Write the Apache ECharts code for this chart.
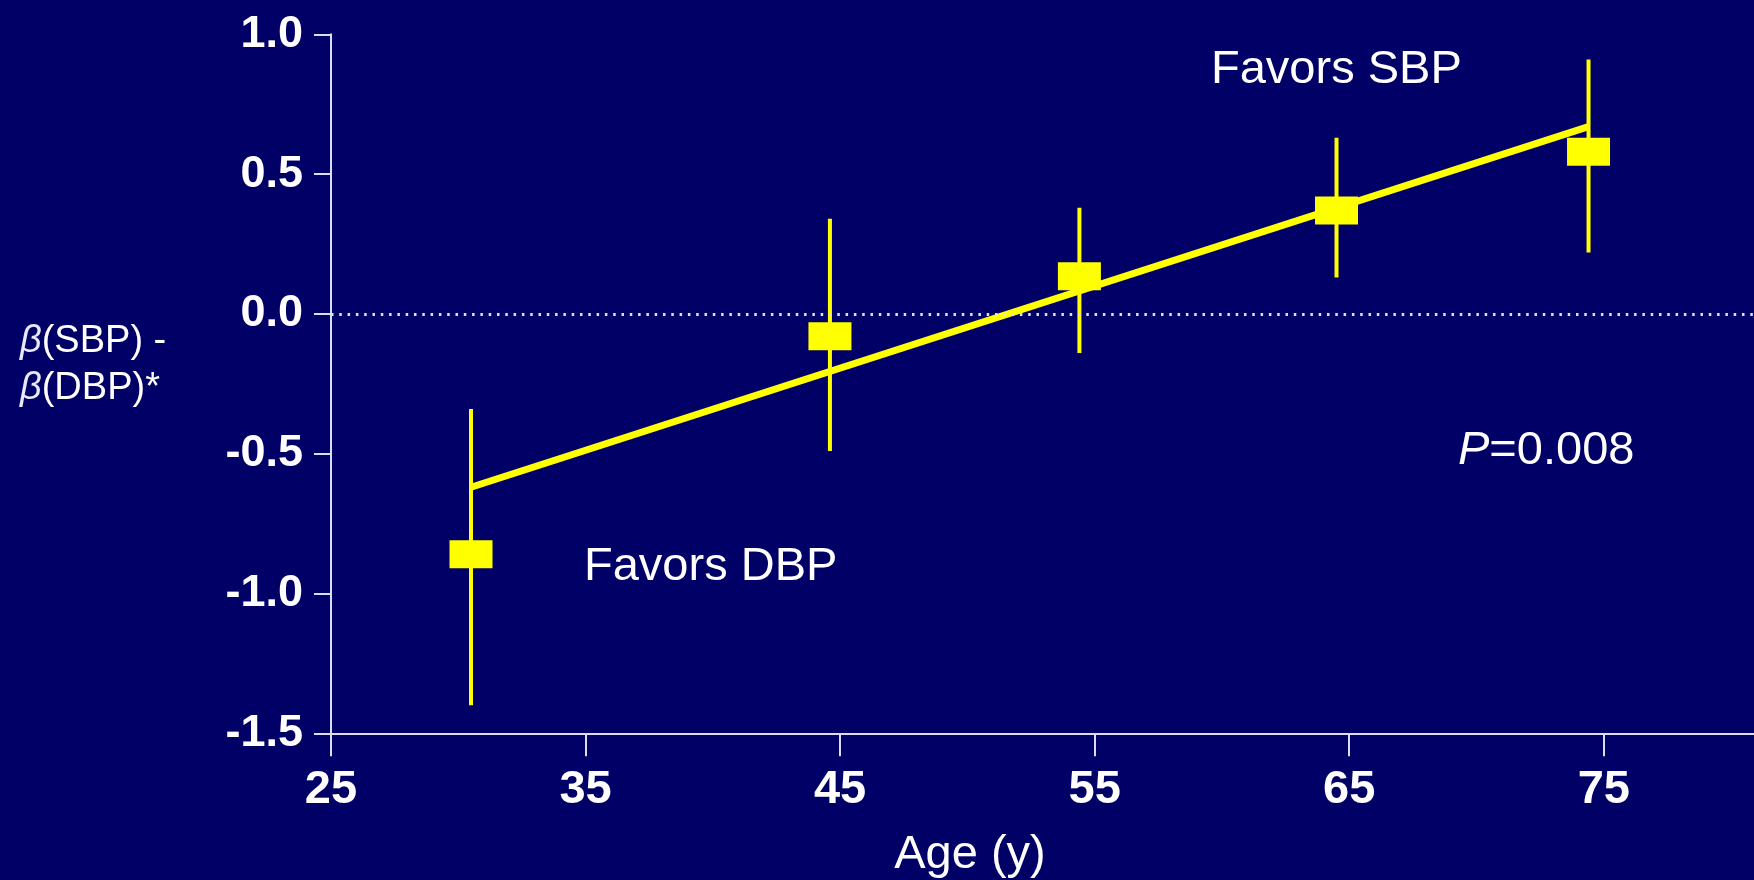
<!DOCTYPE html>
<html>
<head>
<meta charset="utf-8">
<title>β(SBP) - β(DBP) by age</title>
<script src="https://cdn.jsdelivr.net/npm/echarts@6/dist/echarts.min.js"></script>
<style>
  html, body { margin: 0; padding: 0; background: #000066; }
  #chart { width: 1754px; height: 880px; }
</style>
</head>
<body>
<div id="chart"></div>
<script>
// Age group midpoints (years)
const ages = [30.5, 44.6, 54.4, 64.5, 74.4];
// Difference of regression coefficients, β(SBP) - β(DBP)
const betaDiff = [-0.86, -0.08, 0.135, 0.37, 0.58];
// 95% confidence limits
const ciLower = [-1.40, -0.49, -0.14, 0.13, 0.22];
const ciUpper = [-0.34, 0.34, 0.38, 0.63, 0.91];
// Fitted trend line end points
const trendAges = [30.5, 74.4];
const trendValues = [-0.62, 0.67];
// Axis ticks
const xTicks = [25, 35, 45, 55, 65, 75];
const yTickStart = -1.5, yTickEnd = 1.0, yTickStep = 0.5;

const YELLOW = '#ffff00';
const AXIS = '#dcdcf0';
const TEXT = '#ffffff';
const FONT = "'Liberation Sans', Arial, sans-serif";

const points = ages.map((a, i) => [a, betaDiff[i]]);
const bars = ages.map((a, i) => [a, ciLower[i], ciUpper[i]]);
const trend = trendAges.map((a, i) => [a, trendValues[i]]);

const chart = echarts.init(document.getElementById('chart'), null, { renderer: 'canvas' });

chart.setOption({
  backgroundColor: '#000066',
  animation: false,
  grid: { left: 331, top: 34.3, bottom: 146.7, right: 0, containLabel: false },
  xAxis: {
    type: 'value',
    min: 25,
    max: 80.9,
    axisLine: { onZero: false, lineStyle: { color: AXIS, width: 2 } },
    axisTick: { show: true, length: 23, customValues: xTicks, lineStyle: { color: AXIS, width: 2 } },
    splitLine: { show: false },
    axisLabel: {
      color: TEXT,
      fontFamily: FONT,
      fontSize: 47,
      fontWeight: 'bold',
      margin: 33,
      customValues: xTicks
    }
  },
  yAxis: {
    type: 'value',
    min: yTickStart,
    max: yTickEnd,
    interval: yTickStep,
    axisLine: { show: true, onZero: false, lineStyle: { color: AXIS, width: 2 } },
    axisTick: { show: true, length: 17, lineStyle: { color: AXIS, width: 2 } },
    splitLine: { show: false },
    axisLabel: {
      color: TEXT,
      fontFamily: FONT,
      fontSize: 45,
      fontWeight: 'bold',
      margin: 28,
      formatter: v => v.toFixed(1)
    }
  },
  series: [
    {
      // confidence interval whiskers
      type: 'custom',
      data: bars,
      encode: { x: 0, y: [1, 2] },
      z: 2,
      renderItem: (params, api) => {
        const x = api.value(0);
        const lo = api.coord([x, api.value(1)]);
        const hi = api.coord([x, api.value(2)]);
        return {
          type: 'line',
          shape: { x1: lo[0], y1: lo[1], x2: hi[0], y2: hi[1] },
          style: { stroke: YELLOW, lineWidth: 4 }
        };
      }
    },
    {
      // fitted trend
      type: 'line',
      data: trend,
      symbol: 'none',
      z: 3,
      lineStyle: { color: YELLOW, width: 7 }
    },
    {
      // point estimates
      type: 'scatter',
      data: points,
      symbol: 'rect',
      symbolSize: [43, 28],
      z: 4,
      itemStyle: { color: YELLOW, opacity: 1 },
      markLine: {
        silent: true,
        symbol: 'none',
        label: { show: false },
        lineStyle: { color: '#e0e0f0', width: 3, type: [2.5, 5.8] },
        data: [{ yAxis: 0 }]
      }
    }
  ],
  graphic: [
    {
      type: 'text', left: 20, top: 318, z: 10,
      style: {
        text: '{b|β}(SBP) -\n{b|β}(DBP)*',
        fill: TEXT, font: "38px 'Liberation Sans', Arial, sans-serif", lineHeight: 47,
        rich: { b: { fontStyle: 'italic', fontSize: 38, fontFamily: FONT, fill: '#e8e8f8' } }
      }
    },
    {
      type: 'text', x: 970, y: 855, z: 10,
      style: { text: 'Age (y)', fill: TEXT, font: "47px 'Liberation Sans', Arial, sans-serif", align: 'center', verticalAlign: 'middle' }
    },
    {
      type: 'text', x: 1211, y: 70, z: 10,
      style: { text: 'Favors SBP', fill: TEXT, font: "47px 'Liberation Sans', Arial, sans-serif", align: 'left', verticalAlign: 'middle' }
    },
    {
      type: 'text', x: 584, y: 567, z: 10,
      style: { text: 'Favors DBP', fill: TEXT, font: "47px 'Liberation Sans', Arial, sans-serif", align: 'left', verticalAlign: 'middle' }
    },
    {
      type: 'text', x: 1458, y: 451, z: 10,
      style: {
        text: '{p|P}=0.008', fill: TEXT, font: "47px 'Liberation Sans', Arial, sans-serif", align: 'left', verticalAlign: 'middle',
        rich: { p: { fontStyle: 'italic', fontSize: 47, fontFamily: FONT, fill: TEXT } }
      }
    }
  ]
});
</script>
</body>
</html>
